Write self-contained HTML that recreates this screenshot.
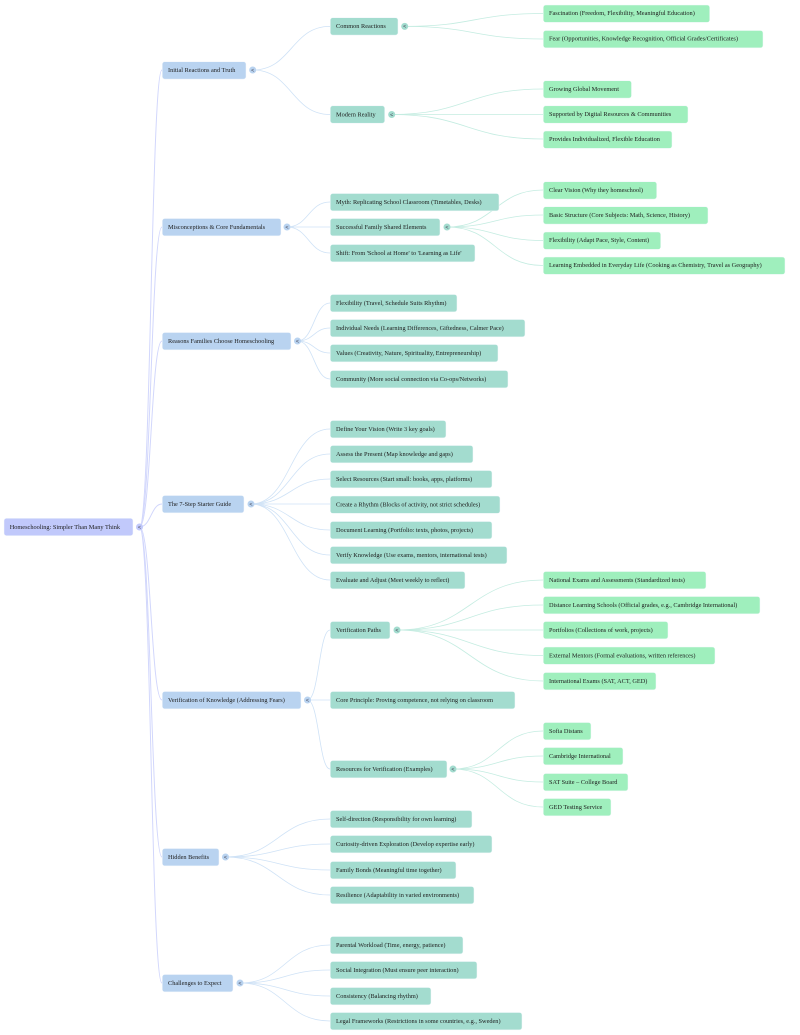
<!DOCTYPE html>
<html><head><meta charset="utf-8"><style>
html,body{margin:0;padding:0;background:#fff;width:800px;height:1035px;overflow:hidden}
svg{display:block;filter:blur(.3px)}
text{font-family:"Liberation Serif",serif;font-size:6.3px;fill:#1c1c1c;transform:translateY(-.4px)}
.t text{font-size:5.5px;fill:#445;font-family:"Liberation Sans",sans-serif;text-anchor:middle;transform:none}
.a path{fill:none;stroke:#d2d7fc;stroke-width:1}
.b path{fill:none;stroke:#cfe2f6;stroke-width:.8}
.c path{fill:none;stroke:#c4ece1;stroke-width:.8}
rect{stroke:#f4f8fc;stroke-width:.5}
.r0{fill:#c1c9fb}.r1{fill:#b9d3f0}.r2{fill:#a3dccf}.r3{fill:#9fefbd}
</style></head><body>
<svg width="800" height="1035" viewBox="0 0 800 1035" xmlns="http://www.w3.org/2000/svg">
<g class="a">
<path d="M139.5 527C151 527 151 70 162 70"/>
<path d="M139.5 527C151 527 151 227 162 227"/>
<path d="M139.5 527C151 527 151 341 162 341"/>
<path d="M139.5 527C151 527 151 504 162 504"/>
<path d="M139.5 527C151 527 151 700 162 700"/>
<path d="M139.5 527C151 527 151 857 162 857"/>
<path d="M139.5 527C151 527 151 983 162 983"/>
</g>
<g class="b">
<path d="M253 70C291.5 70 291.5 26.4 330 26.4"/>
<path d="M253 70C291.5 70 291.5 114.5 330 114.5"/>
<path d="M287 227C308.5 227 308.5 202 330 202"/>
<path d="M287 227H330"/>
<path d="M287 227C308.5 227 308.5 253 330 253"/>
<path d="M297.5 341C314 341 314 303 330 303"/>
<path d="M297.5 341C314 341 314 328 330 328"/>
<path d="M297.5 341C314 341 314 353 330 353"/>
<path d="M297.5 341C314 341 314 379 330 379"/>
<path d="M251 504C290.5 504 290.5 429 330 429"/>
<path d="M251 504C290.5 504 290.5 454 330 454"/>
<path d="M251 504C290.5 504 290.5 479 330 479"/>
<path d="M251 504H330"/>
<path d="M251 504C290.5 504 290.5 530 330 530"/>
<path d="M251 504C290.5 504 290.5 555 330 555"/>
<path d="M251 504C290.5 504 290.5 580 330 580"/>
<path d="M307.5 700C319 700 319 630 330 630"/>
<path d="M307.5 700H330"/>
<path d="M307.5 700C319 700 319 769 330 769"/>
<path d="M225.5 857C278 857 278 819 330 819"/>
<path d="M225.5 857C278 857 278 844 330 844"/>
<path d="M225.5 857C278 857 278 870 330 870"/>
<path d="M225.5 857C278 857 278 895 330 895"/>
<path d="M240 983C285 983 285 945 330 945"/>
<path d="M240 983C285 983 285 970 330 970"/>
<path d="M240 983C285 983 285 996 330 996"/>
<path d="M240 983C285 983 285 1021 330 1021"/>
</g>
<g class="c">
<path d="M404.7 26.4C474 26.4 474 13.5 543 13.5"/>
<path d="M404.7 26.4C474 26.4 474 39 543 39"/>
<path d="M391.7 114.5C467 114.5 467 89 543 89"/>
<path d="M391.7 114.5H543"/>
<path d="M391.7 114.5C467 114.5 467 139 543 139"/>
<path d="M447 227C495 227 495 190 543 190"/>
<path d="M447 227C495 227 495 215 543 215"/>
<path d="M447 227C495 227 495 240.5 543 240.5"/>
<path d="M447 227C495 227 495 265.5 543 265.5"/>
<path d="M397 630C470 630 470 580 543 580"/>
<path d="M397 630C470 630 470 605 543 605"/>
<path d="M397 630H543"/>
<path d="M397 630C470 630 470 655.5 543 655.5"/>
<path d="M397 630C470 630 470 681 543 681"/>
<path d="M453 769C498 769 498 731 543 731"/>
<path d="M453 769C498 769 498 756 543 756"/>
<path d="M453 769C498 769 498 782 543 782"/>
<path d="M453 769C498 769 498 807 543 807"/>
</g>
<rect class="r0" x="4" y="518.3" width="129" height="17.4" rx="2.5"/><text x="9.7" y="529.3">Homeschooling: Simpler Than Many Think</text>
<rect class="r1" x="162.3" y="61.7" width="83.7" height="17.4" rx="2.5"/><text x="168" y="72.3">Initial Reactions and Truth</text>
<rect class="r1" x="162.3" y="218.5" width="118.7" height="17.4" rx="2.5"/><text x="168" y="229.3">Misconceptions &amp; Core Fundamentals</text>
<rect class="r1" x="162.3" y="332.5" width="128.7" height="17.4" rx="2.5"/><text x="168" y="343.3">Reasons Families Choose Homeschooling</text>
<rect class="r1" x="162.3" y="495.5" width="81.7" height="17.4" rx="2.5"/><text x="168" y="506.3">The 7-Step Starter Guide</text>
<rect class="r1" x="162.3" y="691.5" width="138.7" height="17.4" rx="2.5"/><text x="168" y="702.3">Verification of Knowledge (Addressing Fears)</text>
<rect class="r1" x="162.3" y="848.5" width="56.7" height="17.4" rx="2.5"/><text x="168" y="859.3">Hidden Benefits</text>
<rect class="r1" x="162.3" y="974.5" width="70.7" height="17.4" rx="2.5"/><text x="168" y="985.3">Challenges to Expect</text>
<rect class="r2" x="330.3" y="17.7" width="67.7" height="17.4" rx="2.5"/><text x="336" y="28.3">Common Reactions</text>
<rect class="r2" x="330.3" y="105.8" width="54.4" height="17.4" rx="2.5"/><text x="336" y="116.8">Modern Reality</text>
<rect class="r2" x="330.3" y="193.5" width="168.7" height="17.4" rx="2.5"/><text x="336" y="204.3">Myth: Replicating School Classroom (Timetables, Desks)</text>
<rect class="r2" x="330.3" y="218.5" width="109.7" height="17.4" rx="2.5"/><text x="336" y="229.3">Successful Family Shared Elements</text>
<rect class="r2" x="330.3" y="244.5" width="144.7" height="17.4" rx="2.5"/><text x="336" y="255.3">Shift: From 'School at Home' to 'Learning as Life'</text>
<rect class="r2" x="330.3" y="294.5" width="126.7" height="17.4" rx="2.5"/><text x="336" y="305.3">Flexibility (Travel, Schedule Suits Rhythm)</text>
<rect class="r2" x="330.3" y="319.5" width="194.7" height="17.4" rx="2.5"/><text x="336" y="330.3">Individual Needs (Learning Differences, Giftedness, Calmer Pace)</text>
<rect class="r2" x="330.3" y="344.5" width="167.7" height="17.4" rx="2.5"/><text x="336" y="355.3">Values (Creativity, Nature, Spirituality, Entrepreneurship)</text>
<rect class="r2" x="330.3" y="370.5" width="177.7" height="17.4" rx="2.5"/><text x="336" y="381.3">Community (More social connection via Co-ops/Networks)</text>
<rect class="r2" x="330.3" y="420.5" width="115.7" height="17.4" rx="2.5"/><text x="336" y="431.3">Define Your Vision (Write 3 key goals)</text>
<rect class="r2" x="330.3" y="445.5" width="142.7" height="17.4" rx="2.5"/><text x="336" y="456.3">Assess the Present (Map knowledge and gaps)</text>
<rect class="r2" x="330.3" y="470.5" width="161.7" height="17.4" rx="2.5"/><text x="336" y="481.3">Select Resources (Start small: books, apps, platforms)</text>
<rect class="r2" x="330.3" y="496" width="169.7" height="17.4" rx="2.5"/><text x="336" y="506.8">Create a Rhythm (Blocks of activity, not strict schedules)</text>
<rect class="r2" x="330.3" y="521.5" width="161.7" height="17.4" rx="2.5"/><text x="336" y="532.3">Document Learning (Portfolio: texts, photos, projects)</text>
<rect class="r2" x="330.3" y="546.5" width="176.7" height="17.4" rx="2.5"/><text x="336" y="557.3">Verify Knowledge (Use exams, mentors, international tests)</text>
<rect class="r2" x="330.3" y="571.5" width="134.7" height="17.4" rx="2.5"/><text x="336" y="582.3">Evaluate and Adjust (Meet weekly to reflect)</text>
<rect class="r2" x="330.3" y="621.5" width="59.7" height="17.4" rx="2.5"/><text x="336" y="632.3">Verification Paths</text>
<rect class="r2" x="330.3" y="691.5" width="184.7" height="17.4" rx="2.5"/><text x="336" y="702.3">Core Principle: Proving competence, not relying on classroom</text>
<rect class="r2" x="330.3" y="760.5" width="116.7" height="17.4" rx="2.5"/><text x="336" y="771.3">Resources for Verification (Examples)</text>
<rect class="r2" x="330.3" y="810.5" width="141.7" height="17.4" rx="2.5"/><text x="336" y="821.3">Self-direction (Responsibility for own learning)</text>
<rect class="r2" x="330.3" y="835.5" width="161.7" height="17.4" rx="2.5"/><text x="336" y="846.3">Curiosity-driven Exploration (Develop expertise early)</text>
<rect class="r2" x="330.3" y="861.5" width="125.7" height="17.4" rx="2.5"/><text x="336" y="872.3">Family Bonds (Meaningful time together)</text>
<rect class="r2" x="330.3" y="886.5" width="143.7" height="17.4" rx="2.5"/><text x="336" y="897.3">Resilience (Adaptability in varied environments)</text>
<rect class="r2" x="330.3" y="936.5" width="132.7" height="17.4" rx="2.5"/><text x="336" y="947.3">Parental Workload (Time, energy, patience)</text>
<rect class="r2" x="330.3" y="961.5" width="146.7" height="17.4" rx="2.5"/><text x="336" y="972.3">Social Integration (Must ensure peer interaction)</text>
<rect class="r2" x="330.3" y="987.5" width="100.7" height="17.4" rx="2.5"/><text x="336" y="998.3">Consistency (Balancing rhythm)</text>
<rect class="r2" x="330.3" y="1012.5" width="191.7" height="17.4" rx="2.5"/><text x="336" y="1023.3">Legal Frameworks (Restrictions in some countries, e.g., Sweden)</text>
<rect class="r3" x="543.3" y="5" width="166.4" height="17.4" rx="2.5"/><text x="549" y="15.5">Fascination (Freedom, Flexibility, Meaningful Education)</text>
<rect class="r3" x="543.3" y="30.5" width="219.7" height="17.4" rx="2.5"/><text x="549" y="41">Fear (Opportunities, Knowledge Recognition, Official Grades/Certificates)</text>
<rect class="r3" x="543.3" y="80.7" width="88.2" height="17.4" rx="2.5"/><text x="549" y="91.3">Growing Global Movement</text>
<rect class="r3" x="543.3" y="105.8" width="144.7" height="17.4" rx="2.5"/><text x="549" y="116.4">Supported by Digital Resources &amp; Communities</text>
<rect class="r3" x="543.3" y="131" width="128.7" height="17.4" rx="2.5"/><text x="549" y="141.5">Provides Individualized, Flexible Education</text>
<rect class="r3" x="543.3" y="181.7" width="113.4" height="17.4" rx="2.5"/><text x="549" y="192.3">Clear Vision (Why they homeschool)</text>
<rect class="r3" x="543.3" y="206.7" width="164.7" height="17.4" rx="2.5"/><text x="549" y="217.3">Basic Structure (Core Subjects: Math, Science, History)</text>
<rect class="r3" x="543.3" y="232" width="117.4" height="17.4" rx="2.5"/><text x="549" y="242.5">Flexibility (Adapt Pace, Style, Content)</text>
<rect class="r3" x="543.3" y="257" width="241.7" height="17.4" rx="2.5"/><text x="549" y="267.5">Learning Embedded in Everyday Life (Cooking as Chemistry, Travel as Geography)</text>
<rect class="r3" x="543.3" y="571.5" width="162.7" height="17.4" rx="2.5"/><text x="549" y="582.3">National Exams and Assessments (Standardized tests)</text>
<rect class="r3" x="543.3" y="596.5" width="216.7" height="17.4" rx="2.5"/><text x="549" y="607.3">Distance Learning Schools (Official grades, e.g., Cambridge International)</text>
<rect class="r3" x="543.3" y="621.5" width="124.7" height="17.4" rx="2.5"/><text x="549" y="632.3">Portfolios (Collections of work, projects)</text>
<rect class="r3" x="543.3" y="647" width="171.7" height="17.4" rx="2.5"/><text x="549" y="657.8">External Mentors (Formal evaluations, written references)</text>
<rect class="r3" x="543.3" y="672.5" width="112.7" height="17.4" rx="2.5"/><text x="549" y="683.3">International Exams (SAT, ACT, GED)</text>
<rect class="r3" x="543.3" y="722.5" width="47.7" height="17.4" rx="2.5"/><text x="549" y="733.3">Sofia Distans</text>
<rect class="r3" x="543.3" y="747.5" width="79.7" height="17.4" rx="2.5"/><text x="549" y="758.3">Cambridge International</text>
<rect class="r3" x="543.3" y="773.5" width="84.7" height="17.4" rx="2.5"/><text x="549" y="784.3">SAT Suite – College Board</text>
<rect class="r3" x="543.3" y="798.5" width="67.7" height="17.4" rx="2.5"/><text x="549" y="809.3">GED Testing Service</text>
<g class="t">
<circle class="r0" cx="139.5" cy="527" r="3.5"/><text x="139.5" y="528.8">&lt;</text>
<circle class="r1" cx="252.7" cy="70" r="3.5"/><text x="252.7" y="71.8">&lt;</text>
<circle class="r1" cx="287" cy="227" r="3.5"/><text x="287" y="228.8">&lt;</text>
<circle class="r1" cx="297.5" cy="341" r="3.5"/><text x="297.5" y="342.8">&lt;</text>
<circle class="r1" cx="251" cy="504" r="3.5"/><text x="251" y="505.8">&lt;</text>
<circle class="r1" cx="307.5" cy="700" r="3.5"/><text x="307.5" y="701.8">&lt;</text>
<circle class="r1" cx="225.5" cy="857" r="3.5"/><text x="225.5" y="858.8">&lt;</text>
<circle class="r1" cx="240" cy="983" r="3.5"/><text x="240" y="984.8">&lt;</text>
<circle class="r2" cx="404.7" cy="26.4" r="3.5"/><text x="404.7" y="28.2">&lt;</text>
<circle class="r2" cx="391.7" cy="114.5" r="3.5"/><text x="391.7" y="116.3">&lt;</text>
<circle class="r2" cx="447" cy="227" r="3.5"/><text x="447" y="228.8">&lt;</text>
<circle class="r2" cx="397" cy="630" r="3.5"/><text x="397" y="631.8">&lt;</text>
<circle class="r2" cx="453" cy="769" r="3.5"/><text x="453" y="770.8">&lt;</text>
</g>
</svg>
</body></html>
